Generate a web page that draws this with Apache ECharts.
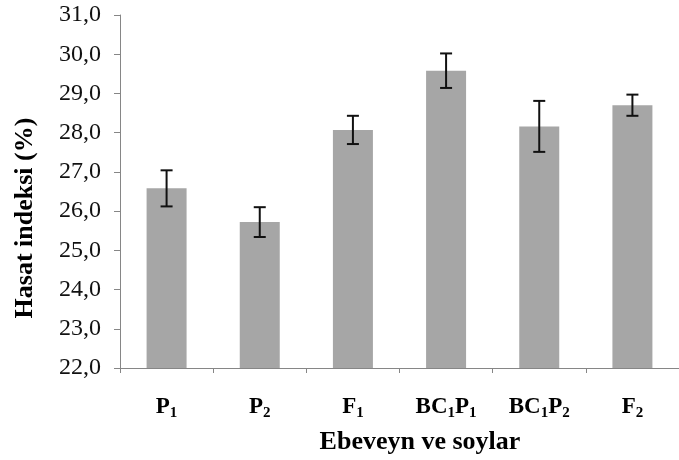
<!DOCTYPE html>
<html>
<head>
<meta charset="utf-8">
<script src="https://cdn.jsdelivr.net/npm/echarts@6/dist/echarts.min.js"></script>
<style>html,body{margin:0;padding:0;background:#fff;}#c{width:679px;height:460px;}</style>
</head>
<body>
<div id="c"></div>
<script>
// Data
var categories = ['P1', 'P2', 'F1', 'BC1P1', 'BC1P2', 'F2'];
var means = [26.58, 25.72, 28.07, 29.58, 28.16, 28.70];
var errors = [0.46, 0.38, 0.36, 0.44, 0.65, 0.27];
var yTicks = { min: 22, max: 31, interval: 1 };
var xTitle = 'Ebeveyn ve soylar';
var yTitle = 'Hasat indeksi (%)';

var errData = means.map(function (m, i) { return [i, m - errors[i], m + errors[i]]; });

var chart = echarts.init(document.getElementById('c'));
var serif = 'Liberation Serif';

function catLabel(v) {
  // digits become subscripts
  return v.replace(/([A-Z]+)(\d)/g, '{m|$1}{s|$2}');
}

chart.setOption({
  animation: false,
  backgroundColor: '#fff',
  grid: { left: 120, top: 15, width: 566, height: 353, containLabel: false },
  xAxis: {
    type: 'category',
    data: categories,
    axisLine: { lineStyle: { color: '#868686', width: 1 } },
    axisTick: { show: true, length: 5, alignWithLabel: false, lineStyle: { color: '#868686' } },
    axisLabel: {
      interval: 0,
      margin: 28,
      formatter: catLabel,
      rich: {
        m: { fontFamily: serif, fontSize: 23, fontWeight: 'bold', color: '#000', lineHeight: 24, verticalAlign: 'top' },
        s: { fontFamily: serif, fontSize: 15, fontWeight: 'bold', color: '#000', lineHeight: 15, verticalAlign: 'top', padding: [10, 0, 0, 0] }
      }
    }
  },
  yAxis: {
    type: 'value',
    min: yTicks.min,
    max: yTicks.max,
    interval: yTicks.interval,
    splitLine: { show: false },
    axisLine: { show: true, lineStyle: { color: '#868686', width: 1 } },
    axisTick: { show: true, length: 6, lineStyle: { color: '#868686' } },
    axisLabel: {
      margin: 19,
      fontFamily: serif,
      fontSize: 24,
      color: '#111',
      formatter: function (v) { return v.toFixed(1).replace('.', ','); }
    }
  },
  series: [
    {
      type: 'bar',
      data: means,
      barWidth: 40,
      itemStyle: { color: '#A6A6A6' }
    },
    {
      type: 'custom',
      data: errData,
      z: 10,
      renderItem: function (params, api) {
        var x = api.value(0);
        var lo = api.coord([x, api.value(1)]);
        var hi = api.coord([x, api.value(2)]);
        var hw = 6;
        var st = { stroke: '#111', lineWidth: 2, fill: null };
        return {
          type: 'group',
          children: [
            { type: 'line', shape: { x1: hi[0], y1: hi[1], x2: lo[0], y2: lo[1] }, style: st },
            { type: 'line', shape: { x1: hi[0] - hw, y1: hi[1], x2: hi[0] + hw, y2: hi[1] }, style: st },
            { type: 'line', shape: { x1: lo[0] - hw, y1: lo[1], x2: lo[0] + hw, y2: lo[1] }, style: st }
          ]
        };
      }
    }
  ],
  graphic: [
    {
      type: 'text', x: 420, y: 442,
      style: { text: xTitle, fontFamily: serif, fontSize: 26, fontWeight: 'bold', fill: '#000', align: 'center', verticalAlign: 'middle' }
    },
    {
      type: 'text', x: 25, y: 218, rotation: Math.PI / 2,
      style: { text: yTitle, fontFamily: serif, fontSize: 26, fontWeight: 'bold', fill: '#000', align: 'center', verticalAlign: 'middle' }
    }
  ]
});
</script>
</body>
</html>
